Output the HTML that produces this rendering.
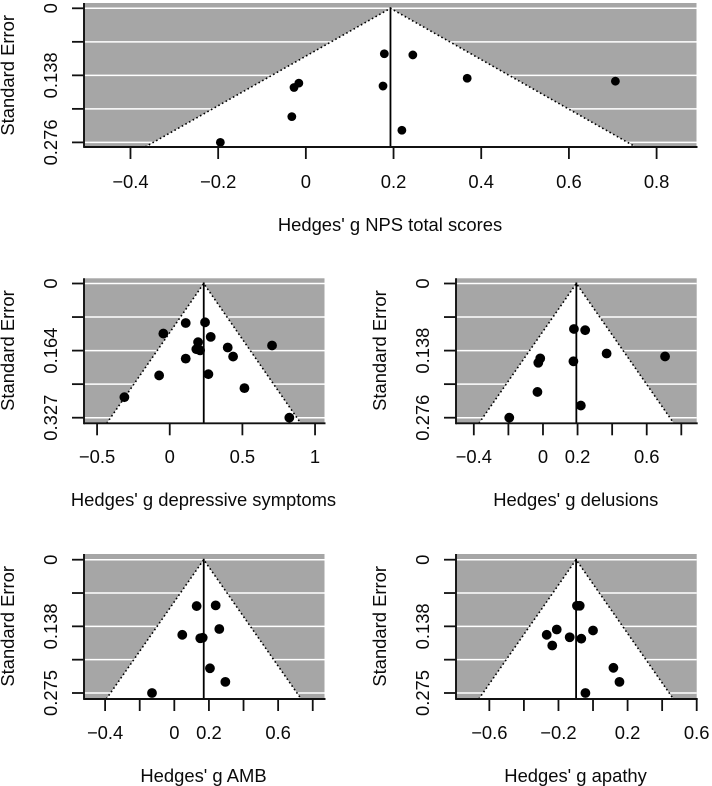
<!DOCTYPE html>
<html lang="en">
<head>
<meta charset="utf-8">
<title>Funnel plots</title>
<style>
html,body{margin:0;padding:0;background:#fff;}
svg{display:block;}
text{font-family:"Liberation Sans",Arial,sans-serif;font-size:18.4px;fill:#0a0a0a;}
</style>
</head>
<body>
<svg id="chart" xmlns="http://www.w3.org/2000/svg" width="712" height="786" viewBox="0 0 712 786"></svg>
<script>
// Panel: NPS total scores
const npsEffects = [-0.195,-0.032,-0.027,-0.016,0.179,0.244,0.176,0.368,0.706,0.219];
const npsErrors = [0.276,0.223,0.163,0.154,0.0935,0.096,0.160,0.144,0.150,0.251];
const npsXTicks = [-0.4,-0.2,0,0.2,0.4,0.6,0.8];
const npsXLabels = ['\u22120.4','\u22120.2','0','0.2','0.4','0.6','0.8'];
const npsSeTicks = [0,0.069,0.138,0.207,0.276];
const npsSeLabels = ['0','','0.138','','0.276'];

// Panel: depressive symptoms
const depEffects = [0.110,0.243,-0.044,0.282,0.195,0.183,0.209,0.399,0.436,0.704,0.110,-0.073,0.266,0.514,-0.312,0.823];
const depErrors = [0.0963,0.0946,0.122,0.130,0.143,0.160,0.163,0.156,0.178,0.151,0.183,0.224,0.221,0.255,0.277,0.327];
const depXTicks = [-0.5,0,0.5,1];
const depXLabels = ['\u22120.5','0','0.5','1'];
const depSeTicks = [0,0.08175,0.1635,0.24525,0.327];
const depSeLabels = ['0','','0.164','','0.327'];

// Panel: delusions
const delEffects = [-0.195,-0.032,-0.027,-0.016,0.179,0.244,0.176,0.368,0.706,0.219];
const delErrors = [0.276,0.223,0.163,0.154,0.0935,0.096,0.160,0.144,0.150,0.251];
const delXTicks = [-0.4,-0.2,0,0.2,0.4,0.6,0.8];
const delXLabels = ['\u22120.4','','0','0.2','','0.6',''];
const delSeTicks = [0,0.069,0.138,0.207,0.276];
const delSeLabels = ['0','','0.138','','0.276'];

// Panel: AMB
const ambEffects = [0.129,0.239,0.260,0.046,0.150,0.164,0.206,0.295,-0.129];
const ambErrors = [0.0956,0.0942,0.143,0.155,0.162,0.161,0.224,0.252,0.275];
const ambXTicks = [-0.4,-0.2,0,0.2,0.4,0.6,0.8];
const ambXLabels = ['\u22120.4','','0','0.2','','0.6',''];
const ambSeTicks = [0,0.06875,0.1375,0.20625,0.275];
const ambSeLabels = ['0','','0.138','','0.275'];

// Panel: apathy
const apaEffects = [-0.093,-0.077,-0.210,-0.268,-0.236,-0.135,-0.068,0,0.118,0.153,-0.044];
const apaErrors = [0.095,0.095,0.144,0.155,0.177,0.160,0.163,0.146,0.223,0.252,0.275];
const apaXTicks = [-0.6,-0.4,-0.2,0,0.2,0.4,0.6];
const apaXLabels = ['\u22120.6','','\u22120.2','','0.2','','0.6'];
const apaSeTicks = [0,0.06875,0.1375,0.20625,0.275];
const apaSeLabels = ['0','','0.138','','0.275'];

const panels = [
  {key:'nps', title:"Hedges' g NPS total scores", center:0.193, xMin:-0.506, xMax:0.891,
   left:84, right:696.5, top:3, bottom:147, seTop:8.3, seBottom:142.4, r:4.4,
   effects:npsEffects, errors:npsErrors, xTicks:npsXTicks, xLabels:npsXLabels, seTicks:npsSeTicks, seLabels:npsSeLabels,
   tickBase:188, titleBase:231, yTickX:57, yTitleX:14, titleX:390},
  {key:'depressive', title:"Hedges' g depressive symptoms", center:0.234, xMin:-0.59, xMax:1.065,
   left:84, right:324.5, top:278.3, bottom:423.3, seTop:283.5, seBottom:417.7, r:4.9,
   effects:depEffects, errors:depErrors, xTicks:depXTicks, xLabels:depXLabels, seTicks:depSeTicks, seLabels:depSeLabels,
   tickBase:463, titleBase:506, yTickX:57, yTitleX:14, titleX:203.5},
  {key:'delusions', title:"Hedges' g delusions", center:0.193, xMin:-0.503, xMax:0.889,
   left:456, right:696.7, top:278.3, bottom:423.3, seTop:283.5, seBottom:417.7, r:4.9,
   effects:delEffects, errors:delErrors, xTicks:delXTicks, xLabels:delXLabels, seTicks:delSeTicks, seLabels:delSeLabels,
   tickBase:463, titleBase:506, yTickX:429, yTitleX:386, titleX:575.8},
  {key:'amb', title:"Hedges' g AMB", center:0.170, xMin:-0.522, xMax:0.868,
   left:84, right:324.5, top:554, bottom:699, seTop:559.7, seBottom:693, r:4.9,
   effects:ambEffects, errors:ambErrors, xTicks:ambXTicks, xLabels:ambXLabels, seTicks:ambSeTicks, seLabels:ambSeLabels,
   tickBase:739, titleBase:782, yTickX:57, yTitleX:14, titleX:203.5},
  {key:'apathy', title:"Hedges' g apathy", center:-0.098, xMin:-0.793, xMax:0.600,
   left:456, right:696.7, top:554, bottom:699, seTop:559.7, seBottom:693, r:4.9,
   effects:apaEffects, errors:apaErrors, xTicks:apaXTicks, xLabels:apaXLabels, seTicks:apaSeTicks, seLabels:apaSeLabels,
   tickBase:739, titleBase:782, yTickX:429, yTitleX:386, titleX:575.6}
];

const svg = document.getElementById('chart');
const NS = 'http://www.w3.org/2000/svg';

function make(parent, tag, props, content) {
  const el = document.createElementNS(NS, tag);
  for (const k in props) el.setAttribute(k, props[k]);
  if (content !== undefined) el.textContent = content;
  parent.appendChild(el);
  return el;
}

panels.forEach(function (p) {
  const xScale = function (v) { return p.left + (v - p.xMin) / (p.xMax - p.xMin) * (p.right - p.left); };
  const seMax = p.seTicks[p.seTicks.length - 1];
  const yScale = function (se) { return p.seTop + se / seMax * (p.seBottom - p.seTop); };
  const seAtBottom = (p.bottom - p.seTop) / (p.seBottom - p.seTop) * seMax;
  const halfWidth = 1.96 * seAtBottom;

  const g = make(svg, 'g', {});
  
  

  const bg = make(g, 'rect', {x:p.left, y:p.top, width:p.right - p.left, height:p.bottom - p.top, fill:'#a6a6a6'});
  
  

  p.seTicks.forEach(function (t) {
    const gl = make(g, 'line', {x1:p.left, x2:p.right, y1:yScale(t), y2:yScale(t), stroke:'#fff', 'stroke-width':1.5});
    
    
  });

  const apexX = xScale(p.center), apexY = yScale(0);
  const lx = xScale(p.center - halfWidth), rx = xScale(p.center + halfWidth);

  const funnel = make(g, 'polygon', {points: apexX + ',' + apexY + ' ' + lx + ',' + p.bottom + ' ' + rx + ',' + p.bottom, fill:'#fff'});
  
  

  const dots = make(g, 'polyline', {points: lx + ',' + p.bottom + ' ' + apexX + ',' + apexY + ' ' + rx + ',' + p.bottom, fill:'none', stroke:'#000', 'stroke-width':1.6, 'stroke-dasharray':'1.6 2.6'});
  
  

  const cl = make(g, 'line', {x1:apexX, x2:apexX, y1:apexY - 1, y2:p.bottom, stroke:'#000', 'stroke-width':1.8});
  
  

  p.effects.forEach(function (v, i) {
    const c = make(g, 'circle', {cx:xScale(v), cy:yScale(p.errors[i]), r:p.r, fill:'#000'});
    
    
  });

  const ay = make(g, 'line', {x1:p.left, x2:p.left, y1:p.top, y2:p.bottom + 0.9, stroke:'#111', 'stroke-width':1.9});
  
  

  const ax = make(g, 'line', {x1:p.left, x2:p.right + 1, y1:p.bottom, y2:p.bottom, stroke:'#111', 'stroke-width':1.9});
  
  

  p.xTicks.forEach(function (t, i) {
    const x = xScale(t);
    const tick = make(g, 'line', {x1:x, x2:x, y1:p.bottom, y2:p.bottom + 12, stroke:'#111', 'stroke-width':1.8});
    
    
    if (p.xLabels[i]) {
      const lab = make(g, 'text', {x:x, y:p.tickBase, 'text-anchor':'middle'}, p.xLabels[i]);
      
      
    }
  });

  p.seTicks.forEach(function (t, i) {
    const y = yScale(t);
    const tick = make(g, 'line', {x1:p.left - 12, x2:p.left, y1:y, y2:y, stroke:'#111', 'stroke-width':1.8});
    
    
    if (p.seLabels[i]) {
      const lab = make(g, 'text', {x:p.yTickX, y:y, 'text-anchor':'middle', transform:'rotate(-90 ' + p.yTickX + ' ' + y + ')'}, p.seLabels[i]);
      
      
    }
  });

  const midY = (p.seTop + p.seBottom) / 2;
  const yt = make(g, 'text', {x:p.yTitleX, y:midY, 'text-anchor':'middle', transform:'rotate(-90 ' + p.yTitleX + ' ' + midY + ')'}, 'Standard Error');
  
  

  const xt = make(g, 'text', {x:p.titleX, y:p.titleBase, 'text-anchor':'middle'}, p.title);
  
  
});
</script>
</body>
</html>
